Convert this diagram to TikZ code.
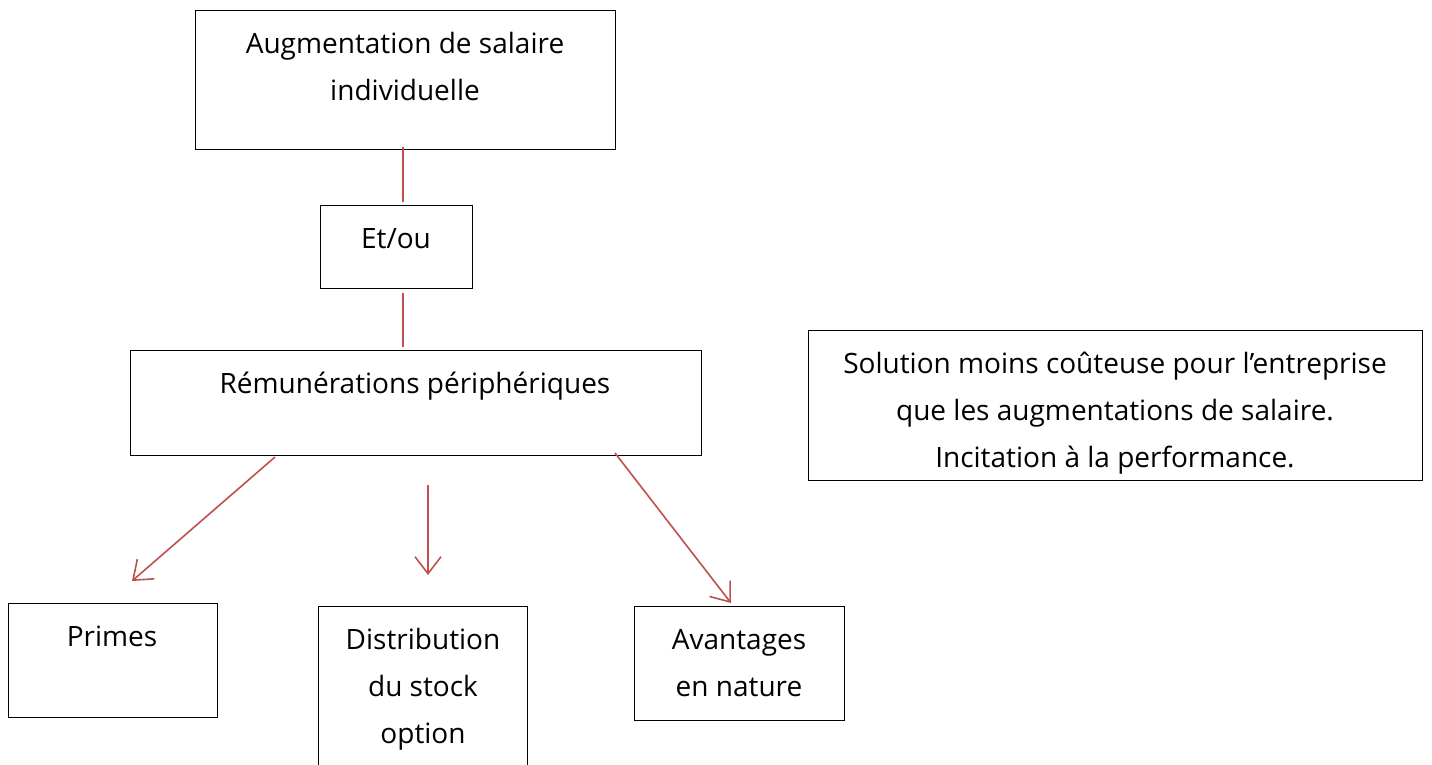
\documentclass[tikz,border=0pt]{standalone}
\usepackage{fontspec}
\setmainfont{Open Sans}
\usetikzlibrary{arrows.meta}
\definecolor{conn}{HTML}{C0504D}
\tikzset{
  box/.style={draw=black, line width=1pt, inner sep=0pt},
  txt/.style={align=center, inner sep=0pt, font=\fontsize{28}{47}\selectfont},
  link/.style={draw=conn, line width=1.6pt},
  arr/.style={link, -{Straight Barb[length=17pt,width=26pt,line width=1.6pt]}}
}
\begin{document}
\begin{tikzpicture}[x=1pt,y=-1pt]
\useasboundingbox[fill=white] (0,0) rectangle (1432,764);
% boxes
\draw[box] (195,10) rectangle (615,149);
\draw[box] (320,205) rectangle (472,288);
\draw[box] (130,350) rectangle (701,455);
\draw[box] (808,330) rectangle (1422,480);
\draw[box] (8,603) rectangle (217,717);
\draw[box] (318,770) -- (318,606) -- (527,606) -- (527,770);
\draw[box] (634,606) rectangle (844,720);
% texts (anchor base = baseline of last line)
\node[txt, anchor=base] (taug) at (405,100) {Augmentation de salaire\\individuelle};
\node[txt, anchor=base] (tet) at (396,248) {Et/ou};
\node[txt, anchor=base] (trem) at (415,393) {Rémunérations périphériques};
\node[txt, anchor=base] (tsol) at (1115,467) {Solution moins coûteuse pour l’entreprise\\que les augmentations de salaire.\\Incitation à la performance.};
\node[txt, anchor=base] (tpri) at (112,646) {Primes};
\node[txt, anchor=base] (tdis) at (423,743) {Distribution\\du stock\\option};
\node[txt, anchor=base] (tava) at (739,696) {Avantages\\en nature};
% connector endpoints
\coordinate (c1a) at (403,147);
\coordinate (c1b) at (403,202);
\coordinate (c2a) at (403,293);
\coordinate (c2b) at (403,347);
\coordinate (a1a) at (275,457);
\coordinate (a1b) at (132,581);
\coordinate (a2a) at (428,485);
\coordinate (a2b) at (428,575);
\coordinate (a3a) at (615,453);
\coordinate (a3b) at (731,603);
\draw[link] (c1a) -- (c1b);
\draw[link] (c2a) -- (c2b);
\draw[arr] (a1a) -- (a1b);
\draw[arr] (a2a) -- (a2b);
\draw[arr] (a3a) -- (a3b);
\end{tikzpicture}
\end{document}
